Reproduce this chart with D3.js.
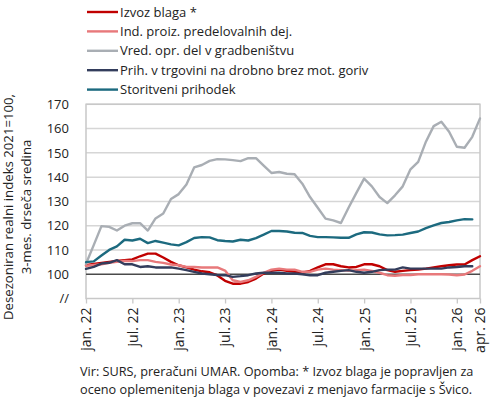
<!DOCTYPE html>
<html><head><meta charset="utf-8">
<script src="https://cdn.jsdelivr.net/npm/d3@7/dist/d3.min.js"></script>
<style>
html,body{margin:0;padding:0;background:#fff;}
svg{display:block;font-family:"Open Sans",sans-serif;}
</style></head>
<body><svg id="c" width="490" height="400"></svg>
<script>
// Months jan 22 .. apr 26 (index 0..51)
const months = d3.range(52);
const tickIdx = [0, 6, 12, 18, 24, 30, 36, 42, 48, 51];
const tickLabels = ["jan. 22","jul. 22","jan. 23","jul. 23","jan. 24","jul. 24","jan. 25","jul. 25","jan. 26","apr. 26"];
const yTicks = [100,110,120,130,140,150,160,170];

const izvozBlaga = [103.7,104.2,104.7,105.1,105.5,105.8,106.1,107.4,108.5,108.5,106.9,105.1,103.7,102.8,101.9,101.2,100.8,99.5,97.3,96.1,96.1,96.8,98.2,100.3,101.4,101.9,101.4,101.0,100.6,101.4,102.8,104.1,104.1,103.3,102.8,103.0,104.1,104.1,103.3,101.7,101.0,101.4,101.7,101.9,102.3,102.8,103.3,103.7,104.0,104.0,105.8,107.4];
const indProiz = [103.5,103.8,104.1,104.7,105.1,105.5,105.4,105.8,105.8,105.1,104.7,104.0,103.7,103.0,103.0,102.8,102.8,102.8,101.5,97.5,96.8,97.5,98.9,100.6,101.9,102.3,101.9,101.9,101.0,101.0,101.9,102.3,101.9,101.7,101.5,101.7,101.9,101.4,100.6,99.6,99.4,99.7,99.7,100.0,100.0,100.0,100.0,99.9,99.6,99.9,101.4,103.3];
const vredGradb = [104.3,112.0,119.8,119.5,118.0,120.0,121.0,121.0,118.0,123.0,125.0,131.0,133.0,137.0,144.0,145.0,146.7,147.4,147.3,147.0,146.6,147.8,147.8,144.7,141.7,142.1,141.4,141.2,137.3,131.8,127.4,122.9,122.2,121.1,127.5,133.5,139.4,136.2,131.8,129.3,132.5,136.2,143.2,146.3,154.6,161.0,162.8,158.7,152.5,152.1,156.6,164.2];
const prihTrg = [102.2,103.0,104.4,104.7,105.8,104.1,104.1,103.0,103.3,102.8,102.8,102.8,102.3,101.7,101.0,100.3,100.0,99.7,99.6,98.9,99.2,99.6,100.3,100.6,100.6,100.6,100.3,100.3,100.0,99.6,99.6,100.6,101.0,101.4,101.7,101.0,100.6,101.0,101.7,101.9,101.9,102.8,102.3,102.3,102.3,102.3,102.3,102.8,103.0,103.3,103.3,null];
const storitve = [105.0,105.3,107.7,110.0,111.5,114.2,113.9,114.6,112.8,113.7,113.0,112.3,111.9,113.2,114.9,115.3,115.2,114.0,113.7,113.5,114.2,113.9,114.9,116.3,117.8,117.8,117.6,117.1,117.0,115.8,115.3,115.3,115.2,115.0,115.0,116.4,117.3,117.2,116.4,116.0,116.1,116.3,117.0,117.6,119.0,120.1,121.1,121.5,122.2,122.7,122.6,null];

const seriesNames = ["Izvoz blaga *","Ind. proiz. predelovalnih dej.","Vred. opr. del v gradbeništvu","Prih. v trgovini na drobno brez mot. goriv","Storitveni prihodek"];
const seriesColors = ["#C00000","#E8797B","#A9AEB4","#333D5C","#1C6A7F"];
const seriesData = [izvozBlaga, indProiz, vredGradb, prihTrg, storitve];

const svg = d3.select("#c");
svg.append("rect").attr("width",490).attr("height",400).attr("fill","#fff");

const x = d3.scaleLinear().domain([0,51]).range([86,480]);
const y = d3.scaleLinear().domain([90,170]).range([298.5,104.3]);
const left = 86, right = 480;

// gridlines
const g = svg.append("g");
g.selectAll("line.grid").data(yTicks.filter(v=>v!==100)).join("line")
  .attr("x1",left).attr("x2",right).attr("y1",d=>y(d)).attr("y2",d=>y(d))
  .attr("stroke","#D6D6D6").attr("stroke-width",1.5);

// plot border
svg.append("rect").attr("x",left).attr("y",y(170)).attr("width",right-left).attr("height",y(90)-y(170))
  .attr("fill","none").attr("stroke","#C8C8C8").attr("stroke-width",1.5);

// 100 line
svg.append("line").attr("x1",left).attr("x2",right).attr("y1",y(100)).attr("y2",y(100))
  .attr("stroke","#4A4A4A").attr("stroke-width",1.3);

// x axis ticks
const xAxis = d3.axisBottom(x).tickValues(tickIdx).tickSize(5).tickFormat((d,i)=>tickLabels[i]);
const xg = svg.append("g").attr("transform",`translate(0,${y(90)})`).call(xAxis);
xg.select(".domain").remove();
xg.selectAll(".tick line").attr("stroke","#C8C8C8").attr("stroke-width",1.3);
xg.selectAll(".tick text")
  .attr("font-family","Open Sans").attr("font-size",14).attr("fill","#222")
  .attr("text-anchor","end").attr("transform","rotate(-90)")
  .attr("x",-9).attr("y",0).attr("dy","0.35em");

// y axis labels
const yAxis = d3.axisLeft(y).tickValues(yTicks).tickSize(0).tickPadding(0);
const yg = svg.append("g").attr("transform","translate(69,0)").call(yAxis);
yg.select(".domain").remove();
yg.selectAll(".tick text").attr("font-family","Open Sans").attr("font-size",13).attr("fill","#222");
svg.append("text").attr("x",69).attr("y",y(90)).attr("dy","0.35em").attr("text-anchor","end")
  .attr("font-size",13).attr("fill","#222").text("//");

// y title
const yt = svg.append("text").attr("transform","translate(0,207) rotate(-90)")
  .attr("text-anchor","middle").attr("font-size",13.2).attr("fill","#222");
yt.append("tspan").attr("x",0).attr("y",13).text("Desezoniran realni indeks 2021=100,");
yt.append("tspan").attr("x",0).attr("y",31).text("3-mes. drseča sredina");

// lines
const line = d3.line().defined(d=>d!=null).x((d,i)=>x(i)).y(d=>y(d)).curve(d3.curveLinear);
svg.append("g").selectAll("path").data(seriesData).join("path")
  .attr("d",d=>line(d)).attr("fill","none")
  .attr("stroke",(d,i)=>seriesColors[i]).attr("stroke-width",2.4)
  .attr("stroke-linejoin","round").attr("stroke-linecap","round");

// legend
const lg = svg.append("g");
const rowY = i => 12 + i*19.4;
lg.selectAll("line").data(seriesNames).join("line")
  .attr("x1",87).attr("x2",118).attr("y1",(d,i)=>rowY(i)).attr("y2",(d,i)=>rowY(i))
  .attr("stroke",(d,i)=>seriesColors[i]).attr("stroke-width",2.4);
lg.selectAll("text").data(seriesNames).join("text")
  .attr("x",120).attr("y",(d,i)=>rowY(i)).attr("dy","0.35em")
  .attr("font-size",13).attr("fill","#222").text(d=>d);

// footer
const ft = svg.append("g").attr("font-size",12.7).attr("fill","#222");
ft.append("text").attr("x",80).attr("y",376).text("Vir: SURS, preračuni UMAR. Opomba: * Izvoz blaga je popravljen za");
ft.append("text").attr("x",80).attr("y",394).text("oceno oplemenitenja blaga v povezavi z menjavo farmacije s Švico.");
</script></body></html>
